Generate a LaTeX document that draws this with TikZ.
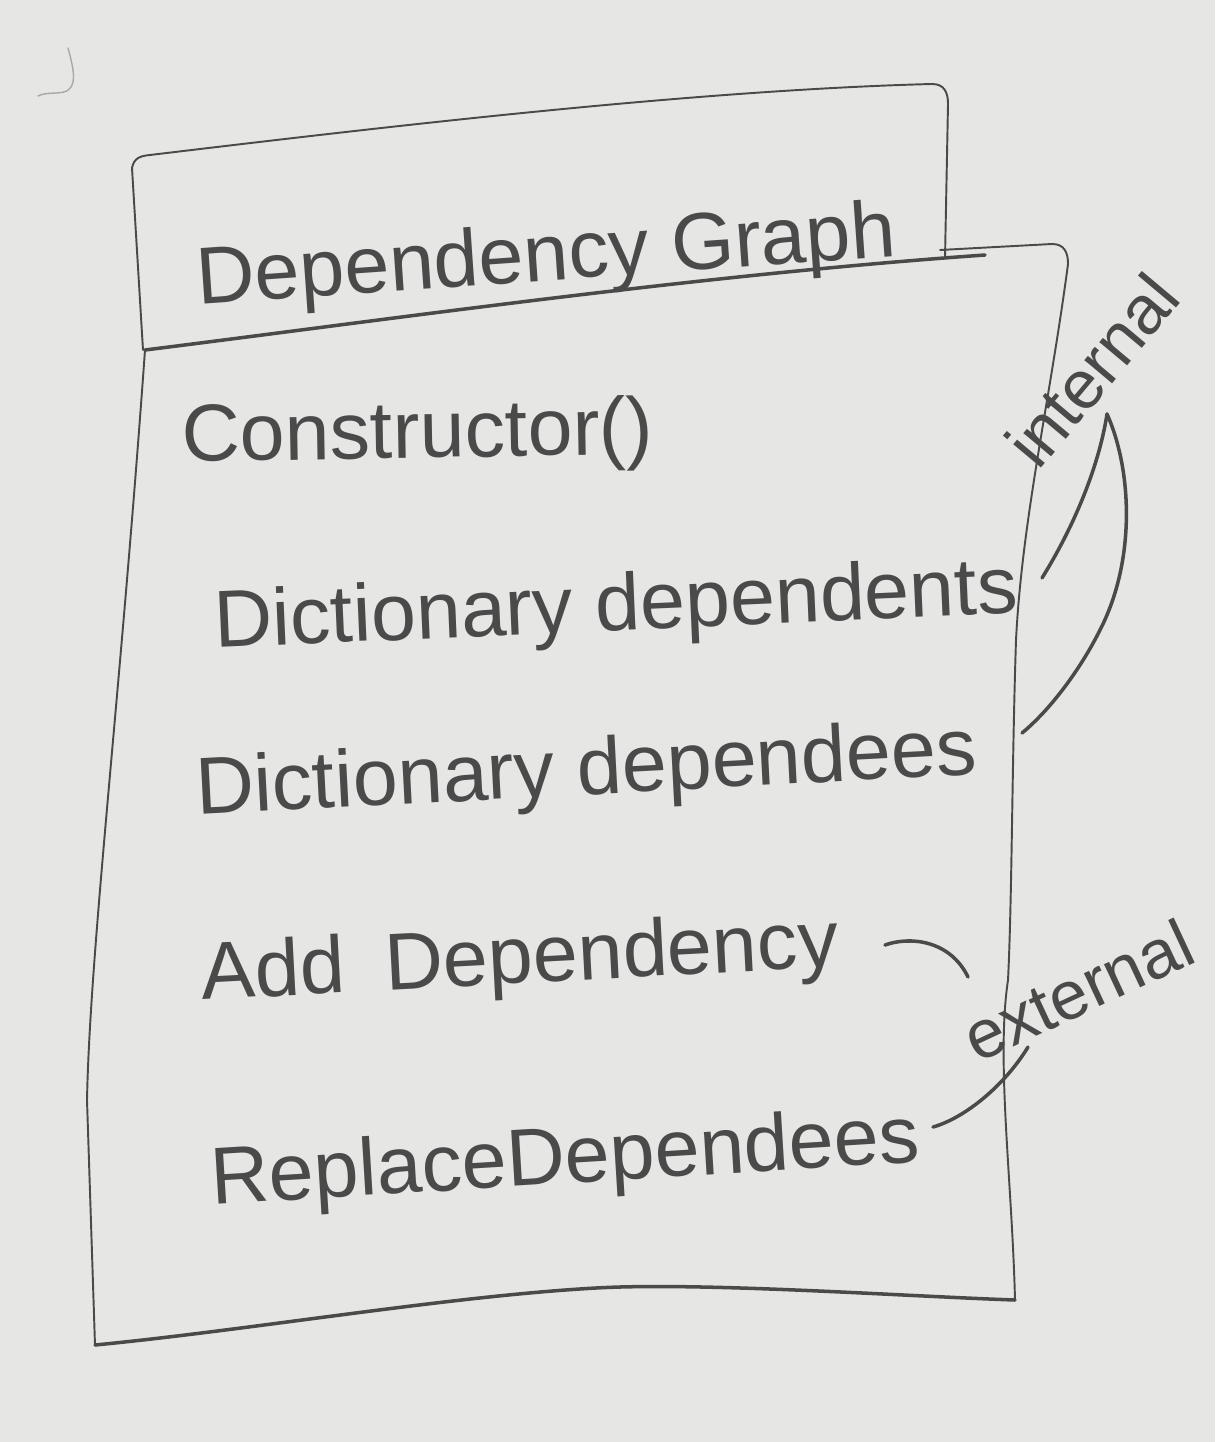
\documentclass[tikz,border=0pt]{standalone}
\usepackage{fontspec}
\setmainfont{Liberation Sans}
\begin{document}
\begin{tikzpicture}[x=0.02cm,y=-0.02cm,
  pencil/.style={draw=lead,line width=1.1pt,line cap=round,line join=round},
  heavy/.style={pencil,line width=2pt},
  hand/.style={text=lead,inner sep=0pt,font=\fontsize{46}{52}\selectfont},
  note/.style={text=lead,inner sep=0pt,font=\fontsize{39}{44}\selectfont}]
\definecolor{paper}{HTML}{E6E6E4}
\definecolor{lead}{HTML}{4A4A4A}
\definecolor{faint}{HTML}{A8A8A6}

% sheet
\fill[paper] (0,0) rectangle (1215,1442);
\useasboundingbox (0,0) rectangle (1215,1442);

% small stray mark in the corner
\draw[draw=faint,line width=0.8pt,line cap=round] (68,48) .. controls (74,70) and (78,88) .. (64,92)
  .. controls (56,94) and (46,92) .. (38,96);

% title box
\draw[pencil] (143,350) -- (132,168) .. controls (134,158) and (140,156) .. (150,155)
  .. controls (400,125) and (700,90) .. (932,84) .. controls (944,84) and (948,92) .. (948,104)
  -- (945,258);
% separator between title and body
\draw[heavy] (145,350) .. controls (400,318) and (700,275) .. (985,255);

% body box
\draw[pencil] (940,250) -- (1052,244) .. controls (1064,244) and (1068,252) .. (1068,264)
  .. controls (1050,400) and (1022,520) .. (1016,640)
  .. controls (1012,760) and (1012,900) .. (1008,980)
  .. controls (996,1060) and (1012,1180) .. (1015,1300);
\draw[heavy] (1015,1300) .. controls (900,1296) and (700,1282) .. (596,1288)
  .. controls (450,1296) and (250,1330) .. (95,1345);
\draw[pencil] (145,350) .. controls (120,700) and (90,950) .. (87,1100) -- (95,1345);

% title and members
\node[hand,anchor=base west,rotate=4] (title) at (198,305) {Dependency Graph};
\node[hand,anchor=base west,rotate=1] (ctor) at (182,462) {Constructor()};
\node[hand,anchor=base west,rotate=2.5] (dents) at (215,648) {Dictionary dependents};
\node[hand,anchor=base west,rotate=3] (dees) at (197,815) {Dictionary dependees};
\node[hand,anchor=base west,rotate=3] (add) at (202,1000) {Add\hspace{0.5em}Dependency};
\node[hand,anchor=base west,rotate=3.5] (repl) at (212,1205) {ReplaceDependees};

% annotations
\node[note,rotate=50] (internal) at (1092,370) {internal};
\node[note,rotate=25] (external) at (1078,990) {external};

% brace grouping the two dictionaries
\draw[heavy] (1042,578) .. controls (1078,520) and (1100,460) .. (1107,414);
\draw[heavy] (1107,414) .. controls (1132,470) and (1136,560) .. (1100,630)
  .. controls (1080,670) and (1050,710) .. (1022,733);

% brace grouping the two public methods
\draw[heavy] (885,945) .. controls (910,936) and (950,940) .. (968,977);
\draw[heavy] (933,1127) .. controls (965,1118) and (1005,1085) .. (1028,1047);
\end{tikzpicture}
\end{document}
